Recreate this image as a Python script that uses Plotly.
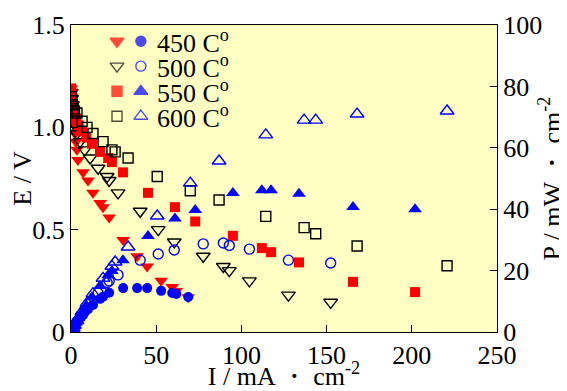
import plotly.graph_objects as go

# ---- data ----
I450 = [0.1, 0.4, 0.7, 1.0, 1.4, 1.8, 2.3, 2.9, 3.5, 4.1, 7.1, 10.0, 12.9, 17.1, 18.8, 22.4, 30.6, 38.8, 44.7, 52.9, 59.4, 61.8, 68.8]
E450 = [1.19, 1.15, 1.11, 1.08, 1.04, 1.01, 0.97, 0.93, 0.89, 0.84, 0.78, 0.74, 0.68, 0.63, 0.61, 0.56, 0.45, 0.37, 0.32, 0.25, 0.22, 0.20, 0.17]
P450 = [0.12, 0.46, 0.78, 1.08, 1.46, 1.82, 2.23, 2.70, 3.12, 3.44, 5.5, 7.4, 8.8, 10.8, 11.5, 12.8, 14.3, 14.3, 14.3, 13.4, 12.7, 12.4, 11.4]

I500 = [0.1, 0.4, 0.8, 1.2, 1.7, 2.4, 3.5, 5.3, 8.0, 11.2, 15.9, 21.2, 22.4, 27.6, 40.6, 51.2, 60.6, 77.6, 89.4, 92.9, 104.7, 127.6, 152.4]
E500 = [1.17, 1.14, 1.11, 1.08, 1.05, 1.01, 0.97, 0.93, 0.89, 0.85, 0.80, 0.76, 0.74, 0.68, 0.59, 0.50, 0.44, 0.37, 0.32, 0.30, 0.25, 0.18, 0.145]
P500 = [0.12, 0.46, 0.89, 1.3, 1.8, 2.4, 3.4, 4.9, 7.1, 9.5, 12.7, 16.1, 16.6, 18.6, 23.4, 25.4, 26.7, 28.7, 29.0, 28.2, 27.0, 23.4, 22.5]

I550 = [0.1, 0.4, 0.8, 1.3, 2.0, 3.0, 4.5, 6.5, 9.0, 12.3, 17.0, 21.8, 24.0, 30.5, 45.2, 61.0, 72.9, 95.0, 112.0, 117.4, 133.8, 165.5, 201.9]
E550 = [1.19, 1.16, 1.13, 1.10, 1.07, 1.04, 1.01, 0.98, 0.95, 0.92, 0.88, 0.85, 0.83, 0.78, 0.68, 0.61, 0.54, 0.47, 0.41, 0.39, 0.34, 0.245, 0.195]
P550 = [0.12, 0.46, 0.9, 1.4, 2.1, 3.1, 4.5, 6.4, 8.6, 11.3, 15.0, 18.5, 19.9, 23.4, 31.3, 37.0, 39.7, 45.3, 46.2, 46.2, 45.0, 40.7, 40.0]

I600 = [0.1, 0.4, 0.8, 1.3, 2.0, 3.5, 6.5, 9.4, 12.9, 18.8, 24.0, 25.9, 33.5, 50.6, 70.0, 86.9, 114.3, 136.8, 143.6, 167.9, 220.7]
E600 = [1.15, 1.13, 1.11, 1.09, 1.08, 1.07, 1.03, 1.00, 0.97, 0.93, 0.89, 0.88, 0.85, 0.76, 0.69, 0.645, 0.565, 0.51, 0.48, 0.42, 0.324]
P600 = [0.12, 0.45, 0.9, 1.4, 2.2, 3.7, 6.7, 9.4, 12.5, 17.5, 21.4, 22.8, 27.7, 37.8, 48.5, 55.7, 64.2, 69.0, 69.0, 71.0, 72.0]

labels = ["450 C<sup>o</sup>", "500 C<sup>o</sup>", "550 C<sup>o</sup>", "600 C<sup>o</sup>"]

x_ticks = [0, 50, 100, 150, 200, 250]
y_ticks = [0, 0.5, 1.0, 1.5]
y_ticktext = ["0", "0.5", "1.0", "1.5"]
y2_ticks = [0, 20, 40, 60, 80, 100]

FONT = "Liberation Serif"
FS = 26
RED = "#ff0000"
BLUE = "#0000ff"
BG = "#ffffc4"

# legend key layout (fractions of the plot area)
KEY_X_E, KEY_X_P, KEY_X_TEXT = 0.108, 0.164, 0.198
KEY_ROWS = [0.947, 0.866, 0.784, 0.703]

series = [
    (I450, E450, P450, dict(symbol="triangle-down", color=RED, size=12),
     dict(symbol="circle", color=BLUE, size=10)),
    (I500, E500, P500, dict(symbol="triangle-down-open", color="black", size=12, line=dict(width=1.4, color="black")),
     dict(symbol="circle-open", color=BLUE, size=10, line=dict(width=1.4, color=BLUE))),
    (I550, E550, P550, dict(symbol="square", color=RED, size=10),
     dict(symbol="triangle-up", color=BLUE, size=12)),
    (I600, E600, P600, dict(symbol="square-open", color="black", size=10, line=dict(width=1.4, color="black")),
     dict(symbol="triangle-up-open", color=BLUE, size=12, line=dict(width=1.4, color=BLUE))),
]

fig = go.Figure()
annotations = []
for (I, E, P, mE, mP), lab, ry in zip(series, labels, KEY_ROWS):
    fig.add_trace(go.Scatter(x=I, y=E, mode="markers", marker=mE, yaxis="y", showlegend=False))
    fig.add_trace(go.Scatter(x=I, y=P, mode="markers", marker=mP, yaxis="y2", showlegend=False))
    # legend key glyphs
    fig.add_trace(go.Scatter(x=[KEY_X_E, KEY_X_P], y=[ry, ry], mode="markers",
                             marker=dict(symbol=[mE["symbol"], mP["symbol"]],
                                         color=[mE["color"], mP["color"]],
                                         size=[mE["size"], mP["size"]],
                                         line=dict(width=1.4, color=[mE["color"], mP["color"]])),
                             xaxis="x3", yaxis="y3", showlegend=False, hoverinfo="skip"))
    annotations.append(dict(x=KEY_X_TEXT, y=ry, xref="paper", yref="paper",
                            xanchor="left", yanchor="middle", text=lab, showarrow=False,
                            font=dict(family=FONT, size=FS, color="black")))

axis_common = dict(ticks="inside", ticklen=7, tickwidth=1, tickcolor="black",
                   showgrid=False, zeroline=False, showline=True, linecolor="black",
                   linewidth=1, automargin=False,
                   tickfont=dict(family=FONT, size=FS, color="black"))

# the page adds an 8px body margin, so the figure is sized to the remaining window
fig.update_layout(
    width=559, height=383,
    margin=dict(l=63, r=70, t=17, b=59),
    paper_bgcolor="white", plot_bgcolor=BG,
    font=dict(family=FONT, size=FS, color="black"),
    xaxis=dict(range=[0, 250], tickvals=x_ticks, mirror=True,
               title=dict(text="I / mA \u30fb cm<sup>-2</sup>", standoff=3,
                          font=dict(family=FONT, size=FS)),
               **axis_common),
    yaxis=dict(range=[0, 1.5], tickvals=y_ticks, ticktext=y_ticktext,
               title=dict(text="E / V", standoff=6, font=dict(family=FONT, size=FS)),
               **axis_common),
    yaxis2=dict(range=[0, 100], tickvals=y2_ticks, overlaying="y", side="right",
                title=dict(text="P / mW \u30fb cm<sup>-2</sup>", standoff=12,
                           font=dict(family=FONT, size=FS)),
                **axis_common),
    xaxis3=dict(range=[0, 1], overlaying="x", visible=False, fixedrange=True),
    yaxis3=dict(range=[0, 1], overlaying="y", visible=False, fixedrange=True),
    annotations=annotations,
    showlegend=False,
)

fig.write_html("out.html")
